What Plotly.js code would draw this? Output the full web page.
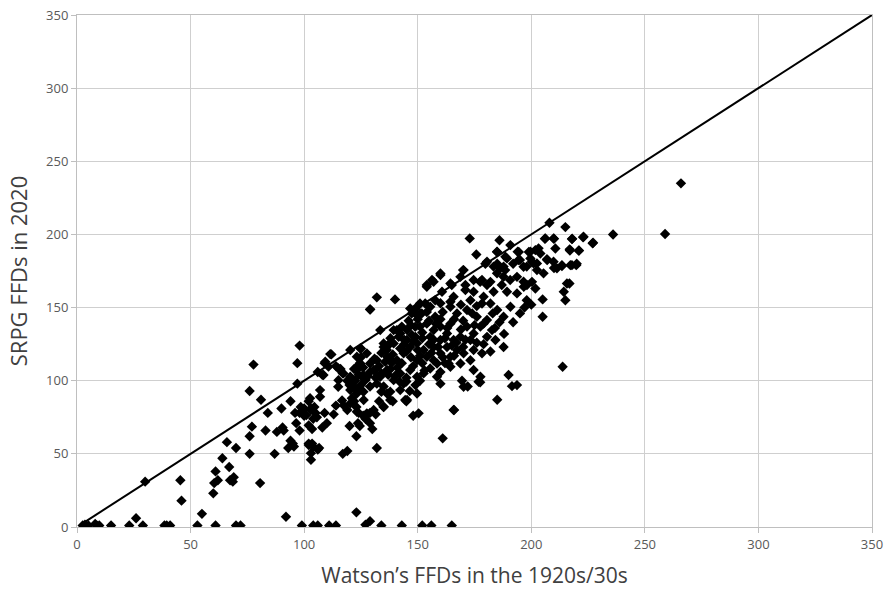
<!DOCTYPE html>
<html>
<head>
<meta charset="utf-8">
<script src="https://cdn.plot.ly/plotly-3.0.1.min.js"></script>
<style>html,body{margin:0;padding:0;background:#fff;}#chart{width:888px;height:594px;}</style>
</head>
<body>
<div id="chart"></div>
<script>
// Watson's FFDs (1920s/30s) vs SRPG FFDs (2020)
const watsonX = [
2.5,5,8.7,9.8,15,23,29,38.5,39.5,41,53,61,70,72,99,104,106,111,114,127,134,143,152,156,165,3.5,8,
129,123,92,55,26,46,60,30,45.5,80.6,
60.4,61,62,64,67,67.4,68.6,69,66,70,76,76,77,76,77.7,81,83,84,87,88,90,90.5,91,94,95,95.5,93,94,96,97,97,98,96.5,98,98.5,101,102,103,104,102,103,104.5,105.6,106,106,
112,109,108,116,114,117,122,125,125,124.5,126,127,119,120,122.5,125,129,131.5,132,134,135,133,136.4,137.9,135.7,137,139,140.5,142,145,146.5,145,149,148,160,166,161,177.5,185,169.5,172,98,100,100,103,105,104,102,103.5,108,110,109,113,114,116.7,117.5,119,121,122,123,124,126,127,128,129,131.5,120,123.7,124.5,123,129,130,132,119,117,102,103.5,103,106.6,137.9,139,
172.9,186,215,208,223,218,236,227,210,206,217,221,210.6,175.8,185,190.8,194.5,198.9,201.8,204,188.6,185,187.8,192,195,198,200.3,202.5,207,210,213.5,217.2,220,179.8,170,160,156.3,154,164.4,168.8,171,174.6,178.3,182,132,140,129,151,160.7,164.4,171,174.6,179,183.4,187,189.3,193.7,196.7,200.3,201.8,198,205,205,214.3,215,216.8,187.8,184.2,213.8,190,191.5,193.7,176.8,165.8,150.4,170.2,133.5,123.2,124.7,120.3,130.6,135,144.5,
146.7,151,155.5,157.7,164.4,167.3,171.7,176,180.5,185,187.8,190.8,182,178.3,173.2,165.8,157.7,
139.4,142.3,145.3,149,151,154,157,160,162.9,164.4,168.8,171.7,174.6,177.6,180.5,182.7,138,155.5,160,165.8,173.2,
135,139.4,142.3,143.8,146.7,149.7,152.6,154,157,160,162.9,164.4,167.3,170.2,173.2,174.6,136.5,140.9,149.7,158.5,163.6,168.8,127.6,129,132,
123.2,126.2,130.6,133.5,136.5,139.4,142.3,143.8,146.7,149.7,152.6,155.5,158.5,164.4,120.3,121.8,129,135,
123.2,126.2,120.3,123.2,127.6,136.5,142.3,145.3,149.7,137.9,
129.1,111.5,109.3,110.7,115.1,117.3,115.1,108.5,107,102.6,107,115,119.5,120.3,124.7,122.5,125.4,126.9,121.7,123.2,126.1,131.3,132,135,140.8,141.6,145.2,147.4,149.6,151.8,147.4,148.9,153.3,154,
265.9,258.9,184.9,194,199.6,203.2,199.6,206.2,209.8,217.9,222.8,227.2,216.9,220.9,206.9,209.8,211.3,213.5,217.9,219.8,170.2,180.5,189.3,194.4,196.6,201,202.5,205.4,215.7,183.4,186.3,188.5,184.9,187.8,190.7,193.7,196.6,198.1,177.5,180.5,160,157,165,
184,188,192,195,197,200,174.6,177.6,179,182,178.3,
150,160,169,176, 148,154,161,174,183, 146,150,155,160,166,170,179,186, 143,147,152,158,163,169,175,
144,148,152,157,162,167,171,176, 137,144,150,155,159,165,170, 134,139,145,151,156,161,166,
131,138,143,147,152,157,162, 126,133,138,141,148,153,160, 124,128,134,140,145,151
];
const srpgY = [
1,1,1,1,1,1,1,1,1,1,1,1,1,1,1,1,1,1,1,1.5,1,1,1,1,1,1.5,2,
4,10,7,9,6,18,23,31,32,30,
30,38,32,47,41,32,31,34,58,54,50,62,68.6,93,111,87,66,78,50,65,81,68,66,59,57,55,54,86,78,98,112,124,71,66,82,76.5,56,46,55,86,80,82,75,53,106,
118,112,104,108,110,105,108,122,116,112,104,101,100,97,100,97,106,102,98,92.5,82,86,121,126,113,104,113,104,99.5,99.5,93,86,97,76,98,80,60.6,99,87,100,96,78,81,76,81,78,74,69.5,67,68,71,78,77,83,86.5,83,80,88,86,82,78,76,74,77,78,77,69,71,69,62,71,67,54,52,50,57,57,50.5,54,92.5,86,
197.3,196,205,208,198.4,197,200,194,197,197,189,189,190.4,186.3,188,192.7,188,188,189.3,187,184.7,180,178,180,182.5,178,181.3,180.2,182.5,177,179,179,180,180,175.6,173.3,168.8,165.4,166.5,171,165.4,168.8,168.8,167.6,157,155.6,148.7,152.8,160.8,154,162,160.8,157.4,160.8,165.4,160.8,159.7,164.2,167.6,163,155,155.6,143.7,160.8,155,166.5,123,127.8,109.5,103.9,96.3,97,99.3,80,77.7,95.9,134.6,116.4,111.8,121,80,82.2,86.8,
149.4,146,150.6,143.7,150.6,146,148.3,143.7,141.5,148.3,143.7,150.6,152.8,152.8,155,157.4,155,
134.6,132.3,134.6,130,137,139,134.6,137,132.3,139,130,137,132.3,137,130,134.6,129,130,127.8,127.8,127.8,
123,125.5,122,118.7,123,125.5,121,116.4,123,118.7,123,116.4,121,118.7,114,121,116.4,114,114,111.8,111.8,111.8,118.7,111.8,114,
107.3,102.7,107.3,102.7,107.3,100.4,105,98,107.3,102.7,105,108.4,102.7,109.5,102.7,96,96,96,
91.3,86.8,84.5,78.8,77.7,91.3,93.6,86.8,91.3,86.8,
148.8,118.2,113,109.6,108.4,105,100.4,103.9,93.6,88,89,95.9,100.4,93.6,122,108.4,102.7,100.4,100.4,93.6,92.5,107.3,102.7,125.5,134.6,130,127.8,131.2,144.9,146,146,136.9,152.8,164.2,
234.9,200.3,188.2,188.2,188.2,190.5,183.6,197.3,197.3,196.8,198,194.3,189.8,188.9,183,181.3,176.8,178.4,179,179,175.6,181.3,183.6,182.5,177.9,180.2,175.6,173.4,166.5,178,176.8,175.6,173.4,171.1,168.8,171,167.7,165.4,167.7,165.4,172.2,167.7,165.4,
136,132,140,146,150,152,107.3,102.7,125,120,118.7,
151,153,152,151, 148,147,147,146,146, 141,142,141,142,142,141,139,140, 137,138,133,139,136,135,138,
128,127,129,128,129,126,128,126, 124,125,121,125,123,124,123, 119,118,120,117,119,116,117,
115,113,112,116,112,114,112, 109,110,108,109,110,107,106, 104,103,105,103,102,100
];
// 1:1 reference line
const lineX = [2, 350];
const lineY = [2, 350];
const tickVals = [0, 50, 100, 150, 200, 250, 300, 350];

const traces = [
  {x: lineX, y: lineY, mode: 'lines', type: 'scatter', line: {color: '#000', width: 2}, hoverinfo: 'skip'},
  {x: watsonX, y: srpgY, mode: 'markers', type: 'scatter',
   marker: {symbol: 'diamond', size: 8, color: '#000'}}
];
const axisCommon = {
  range: [0, 350], tickvals: tickVals, showgrid: true, gridcolor: '#cfcfcf', gridwidth: 1,
  zeroline: false, showline: true, linecolor: '#bfbfbf', linewidth: 1, mirror: true,
  ticks: 'outside', ticklen: 5, tickcolor: '#bfbfbf',
  tickfont: {family: 'Open Sans, sans-serif', size: 13, color: '#595959'}
};
const layout = {
  width: 888, height: 594, showlegend: false,
  paper_bgcolor: '#fff', plot_bgcolor: '#fff',
  margin: {l: 77, r: 16, t: 15, b: 67},
  xaxis: Object.assign({}, axisCommon, {
    title: {text: 'Watson’s FFDs in the 1920s/30s', font: {family: 'Open Sans, sans-serif', size: 21, color: '#404040'}, standoff: 16}
  }),
  yaxis: Object.assign({}, axisCommon, {
    title: {text: 'SRPG FFDs in 2020', font: {family: 'Open Sans, sans-serif', size: 22, color: '#404040'}, standoff: 12}
  })
};
Plotly.newPlot('chart', traces, layout, {displayModeBar: false, staticPlot: true});
</script>
</body>
</html>
